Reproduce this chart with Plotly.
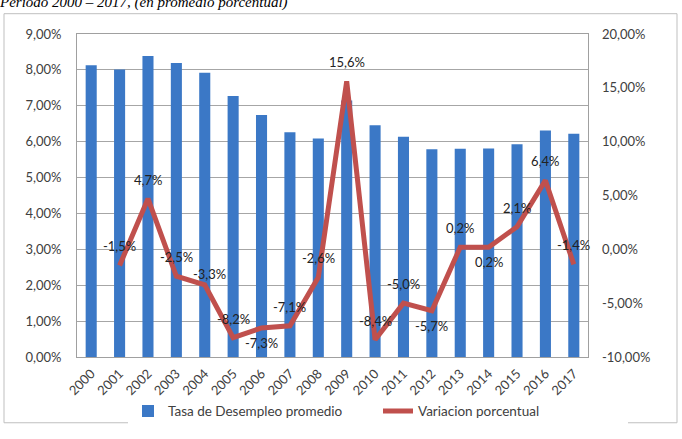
import plotly.graph_objects as go

years = [str(y) for y in range(2000, 2018)]
tasa = [8.13, 8.01, 8.39, 8.19, 7.92, 7.27, 6.74, 6.26, 6.09, 7.15,
        6.46, 6.14, 5.79, 5.80, 5.81, 5.93, 6.31, 6.22]
var_years = years[1:]
variacion = [-1.5, 4.7, -2.5, -3.3, -8.2, -7.3, -7.1, -2.6, 15.6, -8.4,
             -5.0, -5.7, 0.2, 0.2, 2.1, 6.4, -1.4]
var_labels = ["-1,5%", "4,7%", "-2,5%", "-3,3%", "-8,2%", "-7,3%", "-7,1%", "-2,6%",
              "15,6%", "-8,4%", "-5,0%", "-5,7%", "0,2%", "0,2%", "2,1%", "6,4%", "-1,4%"]
# label placement: "a" above, "b" below, "r" above-right (as in the reference)
label_side = ["a", "a", "a", "r", "a", "b", "a", "a", "a", "a",
              "a", "b", "a", "b", "a", "a", "a"]
y1_ticks = [0, 1, 2, 3, 4, 5, 6, 7, 8, 9]
y1_ticktext = ["0,00%", "1,00%", "2,00%", "3,00%", "4,00%", "5,00%", "6,00%", "7,00%",
               "8,00%", "9,00%"]
y2_ticks = [-10, -5, 0, 5, 10, 15, 20]
y2_ticktext = ["-10,00%", "-5,00%", "0,00%", "5,00%", "10,00%", "15,00%", "20,00%"]

FONT = "Lato, Carlito, Calibri, sans-serif"
TXT = "#404040"

fig = go.Figure()
fig.add_trace(go.Bar(
    x=years, y=tasa, name="Tasa de Desempleo promedio",
    marker=dict(color="#3B78C6", line=dict(width=0)),
    width=0.39,
))
fig.add_trace(go.Scatter(
    x=var_years, y=variacion, name="Variacion porcentual", yaxis="y2",
    mode="lines",
    line=dict(color="#C0504D", width=5),
    cliponaxis=False,
))

annotations = []
for xv, yv, lab, side in zip(var_years, variacion, var_labels, label_side):
    if side == "a":
        ys, xs = 19, 0
    elif side == "b":
        ys, xs = -15, 0
    else:
        ys, xs = 11, 5
    annotations.append(dict(
        x=years.index(xv), y=yv, xref="x", yref="y2", text=lab, showarrow=False,
        xshift=xs, yshift=ys, font=dict(family=FONT, size=13, color="#222222"),
    ))

fig.update_layout(
    width=682, height=439,
    margin=dict(l=77, r=94, t=34, b=71),
    paper_bgcolor="white", plot_bgcolor="white",
    separators=",.",
    font=dict(family=FONT, size=13, color=TXT),
    showlegend=True,
    legend=dict(orientation="h", x=(128 - 77) / 511, xanchor="left",
                y=-(424 - 368) / 334, yanchor="middle",
                font=dict(family=FONT, size=13.5, color=TXT), traceorder="normal",
                itemwidth=30, entrywidth=205),
    xaxis=dict(type="category", categoryarray=years, range=[-0.5, len(years) - 0.5],
               autorange=False, tickangle=-45, showgrid=False, ticks="",
               ticklabelstandoff=3,
               showline=True, linecolor="#A0A0A0", mirror=True,
               tickfont=dict(family=FONT, size=13, color=TXT)),
    yaxis=dict(range=[0, 9], autorange=False, tickvals=y1_ticks, ticktext=y1_ticktext,
               showgrid=True, gridcolor="#A6A6A6", gridwidth=1,
               showline=True, linecolor="#A0A0A0", mirror=True, zeroline=False,
               ticks="", ticklabelstandoff=12,
               tickfont=dict(family=FONT, size=13, color=TXT)),
    yaxis2=dict(range=[-10, 20], autorange=False, tickvals=y2_ticks, ticktext=y2_ticktext,
                overlaying="y", side="right", showgrid=False, zeroline=False,
                ticks="", ticklabelstandoff=13,
                tickfont=dict(family=FONT, size=13, color=TXT)),
    bargap=0.6,
    annotations=annotations,
    title=dict(text="<i>Periodo 2000 – 2017, (en promedio porcentual)</i>",
               x=0.0, xanchor="left", xref="container", y=1 - 2 / 439, yanchor="middle",
               font=dict(family="Liberation Serif, Times New Roman, serif", size=15,
                         color="#000000")),
    shapes=[dict(type="rect", xref="paper", yref="paper",
                 x0=-73 / 511, x1=(677 - 77) / 511, y0=-(436 - 368) / 334,
                 y1=1 + (34 - 13) / 334, line=dict(color="#BFBFBF", width=1))],
)

fig.write_html("out.html")
